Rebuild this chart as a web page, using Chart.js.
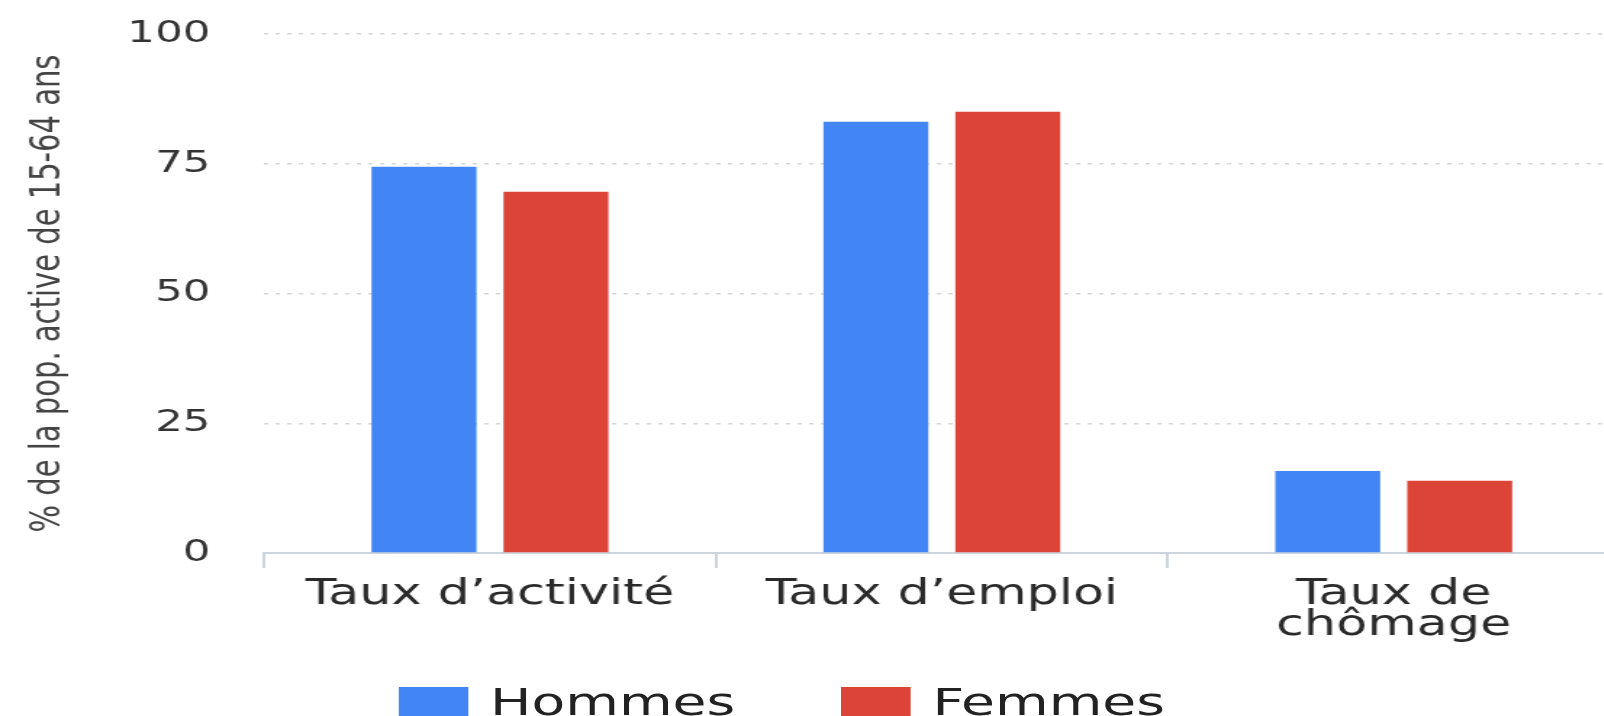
<!DOCTYPE html>
<html lang="fr">
<head>
<meta charset="utf-8">
<title>Taux d'activité, d'emploi et de chômage</title>
<script src="https://cdn.jsdelivr.net/npm/chart.js@4/dist/chart.umd.min.js"></script>
<style>
  html, body { margin: 0; padding: 0; background: #fff; overflow: hidden; }
  body { width: 1604px; height: 716px; position: relative; }
  /* the source picture is stretched sideways, so the whole chart is too */
  #wrap {
    position: absolute; left: 0; top: 0;
    width: 1117px; height: 716px;
    transform: scaleX(1.45); transform-origin: 0 0;
  }
  #myChart { position: absolute; left: 0; top: 0; }
  #legend {
    position: absolute; left: 275px; top: 687px; height: 29px;
    display: flex; align-items: center;
    font-family: "DejaVu Sans", sans-serif; font-size: 38px; line-height: 1; color: #222;
  }
  .item { display: flex; align-items: center; margin-right: 73px; }
  .box { width: 48px; height: 29px; margin-right: 15px; }
</style>
</head>
<body>
<div id="wrap">
  <canvas id="myChart" width="1117" height="653"></canvas>
  <div id="legend"></div>
</div>
<script>
const categories = ['Taux d\u2019activité', 'Taux d\u2019emploi', ['Taux de', 'chômage']];
const seriesNames = ['Hommes', 'Femmes'];
const seriesColors = ['#4285F4', '#DB4437'];
const hommes = [74.4, 83.1, 15.8];
const femmes = [69.6, 85.0, 13.9];
const yTicks = [0, 25, 50, 75, 100];
const yTitle = '% de la pop. active de 15-64 ans';

const values = [hommes, femmes];
const font = 'DejaVu Sans';

new Chart(document.getElementById('myChart').getContext('2d'), {
    type: 'bar',
    data: {
        labels: categories,
        datasets: seriesNames.map((name, i) => ({
            label: name,
            data: values[i],
            backgroundColor: seriesColors[i],
            categoryPercentage: 0.584,
            barPercentage: 0.795
        }))
    },
    options: {
        responsive: false,
        devicePixelRatio: 1,
        animation: false,
        layout: { padding: { left: 12, top: 34, right: 0, bottom: 0 } },
        plugins: {
            legend: { display: false },
            tooltip: { enabled: false }
        },
        scales: {
            x: {
                grid: { drawOnChartArea: false, drawTicks: true, tickLength: 15, color: '#ccd4de', lineWidth: 2 },
                border: { display: true, color: '#ccd4de', width: 2 },
                ticks: {
                    color: '#2a2a2a', padding: 11, maxRotation: 0,
                    font: { family: font, size: 35, lineHeight: 0.9 }
                }
            },
            y: {
                min: 0, max: 100,
                afterBuildTicks: axis => { axis.ticks = yTicks.map(v => ({ value: v })); },
                // the big label gap should not push the plot down
                afterFit: axis => { axis.paddingTop = 18; axis.paddingBottom = 18; },
                grid: { color: '#d6d6d6', lineWidth: 1.5, drawTicks: false },
                border: { display: false, dash: [3, 5] },
                ticks: {
                    color: '#333', padding: 37,
                    font: { family: font, size: 30 }
                },
                title: {
                    display: true, text: yTitle, color: '#444',
                    padding: { top: 4, bottom: 0 },
                    font: { family: font, size: 29 }
                }
            }
        }
    }
});

// légende en HTML, sous le graphique
const legend = document.getElementById('legend');
seriesNames.forEach((name, i) => {
    const item = document.createElement('div');
    item.className = 'item';
    item.innerHTML = '<span class="box" style="background:' + seriesColors[i] + '"></span><span>' + name + '</span>';
    legend.appendChild(item);
});
</script>
</body>
</html>
